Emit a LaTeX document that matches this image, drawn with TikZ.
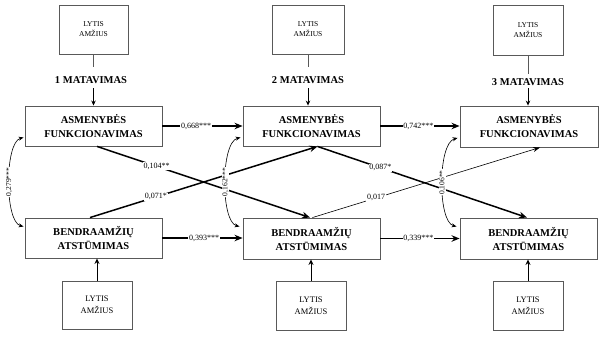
\documentclass[tikz,border=0pt]{standalone}
\usepackage{fontspec}
\setmainfont{Liberation Serif}
\usetikzlibrary{arrows.meta,calc}
\begin{document}
\begin{tikzpicture}[x=1pt,y=-1pt,
  mainbox/.style={draw=black!65, line width=0.9pt, minimum width=137pt, minimum height=40pt, inner sep=0pt, align=center, font=\fontsize{10.5}{14}\selectfont\bfseries},
  lybox/.style={draw=black!65, line width=0.9pt, minimum width=70pt, minimum height=49pt, inner sep=0pt, align=center, font=\fontsize{7.5}{10}\selectfont},
  lyboxb/.style={lybox, font=\fontsize{8.5}{12}\selectfont},
  wave/.style={font=\fontsize{10.5}{12}\selectfont\bfseries, inner sep=0pt},
  coef/.style={fill=white, inner sep=0.8pt, font=\fontsize{8}{9}\selectfont},
  rcoef/.style={fill=white, inner sep=0.8pt, rotate=90, font=\fontsize{7.5}{9}\selectfont},
  strong/.style={line width=1.5pt, -{Stealth[length=8pt,width=6.5pt]}},
  weak/.style={line width=0.6pt, -{Stealth[length=7pt,width=5pt]}},
  downarr/.style={line width=0.7pt, -{Stealth[length=5pt,width=4.5pt]}},
  uparr/.style={line width=0.9pt, -{Stealth[length=5.5pt,width=5pt]}},
  curv/.style={line width=0.6pt, {Stealth[length=5pt,width=4pt]}-{Stealth[length=5pt,width=4pt]}},
  plain/.style={draw=black!65, line width=0.9pt}
]
\useasboundingbox (0,0) rectangle (603,346);

% top LYTIS boxes
\node[lybox, minimum width=69pt] (t1) at (93.5,29.5) {LYTIS\\AMŽIUS};
\node[lybox, minimum width=72pt] (t2) at (308,29.5) {LYTIS\\AMŽIUS};
\node[lybox, minimum height=50pt] (t3) at (528,30) {LYTIS\\AMŽIUS};

% measurement labels
\node[wave] (m1) at (91,80) {1 MATAVIMAS};
\node[wave] (m2) at (308,80) {2 MATAVIMAS};
\node[wave] (m3) at (528,82) {3 MATAVIMAS};

% main boxes
\node[mainbox] (A1) at (93.5,126) {ASMENYBĖS\\FUNKCIONAVIMAS};
\node[mainbox] (A2) at (311.5,126) {ASMENYBĖS\\FUNKCIONAVIMAS};
\node[mainbox, minimum width=138pt, minimum height=41pt] (A3) at (529,126.5) {ASMENYBĖS\\FUNKCIONAVIMAS};
\node[mainbox] (B1) at (93.5,238) {BENDRAAMŽIŲ\\ATSTŪMIMAS};
\node[mainbox, minimum height=41pt] (B2) at (311.5,238.5) {BENDRAAMŽIŲ\\ATSTŪMIMAS};
\node[mainbox, minimum height=41pt] (B3) at (528.5,238.5) {BENDRAAMŽIŲ\\ATSTŪMIMAS};

% bottom LYTIS boxes
\node[lyboxb, minimum height=48pt] (L1) at (97,305) {LYTIS\\AMŽIUS};
\node[lyboxb] (L2) at (311,305.5) {LYTIS\\AMŽIUS};
\node[lyboxb] (L3) at (528,305.5) {LYTIS\\AMŽIUS};

% helper coordinates
\coordinate (e1) at (93.5,67);
\coordinate (e2) at (308,67);
\coordinate (e3) at (528,74);
\coordinate (s1) at (93.5,88);
\coordinate (s2) at (308,88);
\coordinate (s3) at (528,88);

% top connectors
\draw[plain] (t1.south) -- (e1);
\draw[plain] (t2.south) -- (e2);
\draw[plain] (t3.south) -- (e3);
\draw[downarr] (s1) -- (s1 |- A1.north);
\draw[downarr] (s2) -- (s2 |- A2.north);
\draw[downarr] (s3) -- (s3 |- A3.north);

% bottom connectors
\draw[uparr] (L1.north) -- (L1.north |- B1.south);
\draw[uparr] (L2.north) -- (L2.north |- B2.south);
\draw[uparr] (L3.north) -- (L3.north |- B3.south);

% stability paths
\draw[strong] (A1.east) -- node[coef, pos=0.42] {0,668***} (A1.east -| A2.west);
\draw[strong] (A2.east) -- node[coef, pos=0.48] {0,742***} (A2.east -| A3.west);
\draw[strong] (B1.east) -- node[coef, pos=0.52] {0,393***} (B1.east -| B2.west);
\draw[strong] (B2.east) -- node[coef, pos=0.48] {0,339***} (B2.east -| B3.west);

% cross-lagged paths
\draw[strong] ($(A1.south)+(3.5,0)$) -- node[coef, pos=0.28] {0,104**} ($(B2.north)+(-1.5,0)$);
\draw[strong] ($(B1.north)+(-3.5,0)$) -- node[coef, pos=0.29] {0,071*} ($(A2.south)+(6,0)$);
\draw[strong] ($(A2.south)+(6,0)$) -- node[coef, pos=0.3] {0,087*} ($(B3.north)+(-1.5,0)$);
\draw[weak] ($(B2.north)+(1,0)$) -- node[coef, pos=0.28] {0,017} ($(A3.south)+(11,0)$);

% correlations
\draw[curv] ($(A1.south west)+(-1,-9)$) .. controls ($(A1.south west)+(-20,-4)$) and ($(B1.north west)+(-20,4)$) .. node[rcoef] {0,279***} ($(B1.north west)+(-1,9)$);
\draw[curv] ($(A2.south west)+(-2,-9)$) .. controls ($(A2.south west)+(-22,-4)$) and ($(B2.north west)+(-22,4)$) .. node[rcoef] {0,162***} ($(B2.north west)+(-3,9)$);
\draw[curv] ($(A3.south west)+(-2,-9.5)$) .. controls ($(A3.south west)+(-22,-4)$) and ($(B3.north west)+(-22,4)$) .. node[rcoef] {0,106**} ($(B3.north west)+(-3,9)$);
\end{tikzpicture}
\end{document}
